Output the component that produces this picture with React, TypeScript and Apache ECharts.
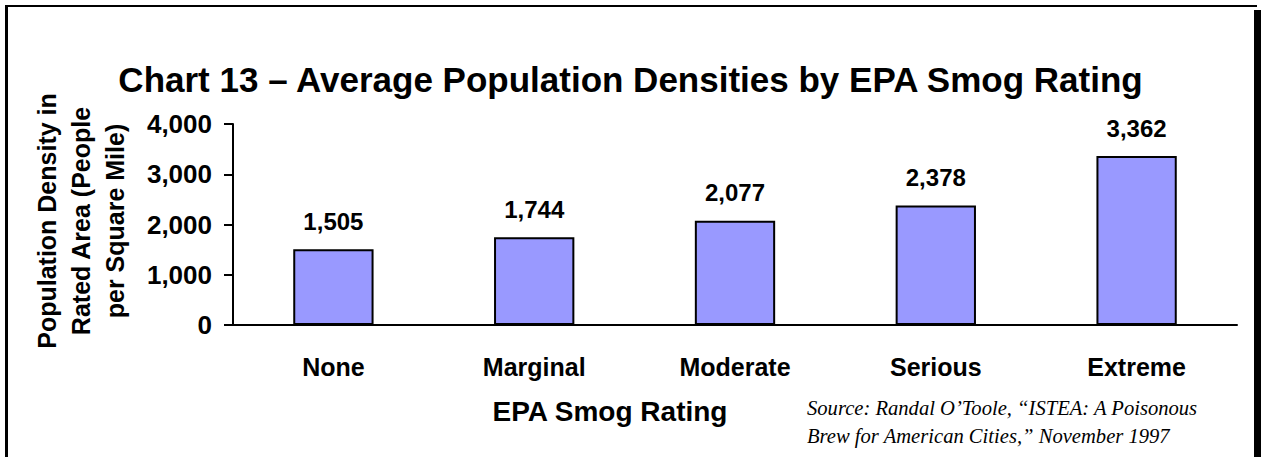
import React, { useEffect, useRef } from "react";
import * as echarts from "echarts";

const categories = ["None", "Marginal", "Moderate", "Serious", "Extreme"];
const densities = [1505, 1744, 2077, 2378, 3362];
const yTicks = { min: 0, max: 4000, interval: 1000 };
const titleText = "Chart 13 \u2013 Average Population Densities by EPA Smog Rating";
const yTitle = "Population Density in\nRated Area (People\nper Square Mile)";
const xTitle = "EPA Smog Rating";
const sourceText =
  "Source: Randal O\u2019Toole, \u201cISTEA: A Poisonous\nBrew for American Cities,\u201d November 1997";

const fmt = (v: number) => Number(v).toLocaleString("en-US");
const SANS = "'Liberation Sans', Arial, sans-serif";
const SERIF = "'Liberation Serif', 'Times New Roman', serif";

export default function App() {
  const ref = useRef<HTMLDivElement>(null);
  useEffect(() => {
    if (!ref.current) return;
    const chart = echarts.init(ref.current, null, { renderer: "svg" });
    chart.setOption({
      animation: false,
      backgroundColor: "#ffffff",
      title: {
        text: titleText,
        left: "center",
        top: 57,
        textStyle: { fontFamily: SANS, fontWeight: "bold", fontSize: 35, color: "#000" },
      },
      grid: { left: 233, right: 24, top: 124, bottom: 132 },
      xAxis: {
        type: "category",
        data: categories,
        axisLine: { show: true, lineStyle: { color: "#000", width: 2 } },
        axisTick: { show: false },
        axisLabel: {
          margin: 29,
          fontFamily: SANS,
          fontWeight: "bold",
          fontSize: 25,
          color: "#000",
        },
      },
      yAxis: {
        type: "value",
        min: yTicks.min,
        max: yTicks.max,
        interval: yTicks.interval,
        splitLine: { show: false },
        axisLine: { show: true, lineStyle: { color: "#000", width: 2 } },
        axisTick: { show: true, length: 9, lineStyle: { color: "#000", width: 2 } },
        axisLabel: {
          margin: 21,
          formatter: (v: number) => fmt(v),
          fontFamily: SANS,
          fontWeight: "bold",
          fontSize: 26,
          color: "#000",
        },
      },
      series: [
        {
          type: "bar",
          data: densities,
          barWidth: "40%",
          itemStyle: { color: "#9999FF", borderColor: "#000", borderWidth: 2 },
          label: {
            show: true,
            position: "top",
            distance: 16,
            formatter: (p: any) => fmt(p.value),
            fontFamily: SANS,
            fontWeight: "bold",
            fontSize: 24,
            color: "#000",
          },
        },
      ],
      graphic: [
        {
          type: "text",
          x: 81,
          y: 221,
          rotation: Math.PI / 2,
          style: {
            text: yTitle,
            fontFamily: SANS,
            fontWeight: "bold",
            fontSize: 25,
            lineHeight: 34,
            fill: "#000",
            textAlign: "center",
            textVerticalAlign: "middle",
          },
        },
        {
          type: "text",
          x: 610,
          y: 411,
          style: {
            text: xTitle,
            fontFamily: SANS,
            fontWeight: "bold",
            fontSize: 28,
            fill: "#000",
            textAlign: "center",
            textVerticalAlign: "middle",
          },
        },
        {
          type: "text",
          x: 807,
          y: 394,
          style: {
            text: sourceText,
            fontFamily: SERIF,
            fontStyle: "italic",
            fontSize: 20.6,
            lineHeight: 28,
            fill: "#000",
            textAlign: "left",
            textVerticalAlign: "top",
          },
        },
        {
          type: "line",
          shape: { x1: 5, y1: 6, x2: 1257, y2: 6 },
          style: { stroke: "#000", lineWidth: 2 },
        },
        {
          type: "line",
          shape: { x1: 6.5, y1: 5, x2: 6.5, y2: 457 },
          style: { stroke: "#000", lineWidth: 3 },
        },
        {
          type: "rect",
          shape: { x: 1254, y: 10, width: 7, height: 447 },
          style: { fill: "#000" },
        },
      ],
    });
    return () => chart.dispose();
  }, []);
  return (
    <div
      ref={ref}
      style={{ position: "fixed", left: 0, top: 0, width: 1261, height: 457 }}
    />
  );
}
